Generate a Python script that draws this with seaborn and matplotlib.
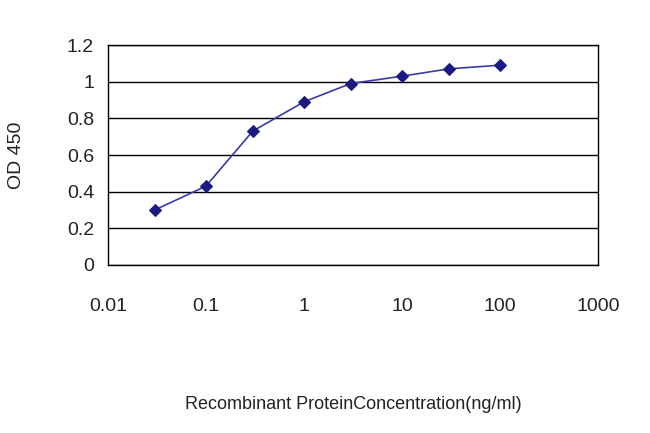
import numpy as np
import pandas as pd
import matplotlib
matplotlib.use("Agg")
import matplotlib.pyplot as plt
import seaborn as sns

conc = [0.03, 0.1, 0.3, 1, 3, 10, 30, 100]
od = [0.30, 0.43, 0.73, 0.89, 0.99, 1.03, 1.07, 1.09]
df = pd.DataFrame({"conc": conc, "od": od})

sns.set_style("white")
plt.rcParams['font.family'] = ['Liberation Sans', 'DejaVu Sans']

fig = plt.figure(figsize=(6.5, 4.33), dpi=100)
ax = fig.add_axes([0.166, 0.388, 0.754, 0.508])
sns.lineplot(data=df, x="conc", y="od", ax=ax, color="#3a3aa8", lw=1.2,
             marker="D", markersize=6, markerfacecolor="#1a1a80", markeredgecolor="#1a1a80")
ax.set_xscale("log")
ax.set_xlim(0.01, 1000)
ax.set_ylim(0, 1.2)
ax.set_xticks([0.01, 0.1, 1, 10, 100, 1000])
ax.set_xticklabels(["0.01", "0.1", "1", "10", "100", "1000"])
ax.set_yticks(np.arange(0, 1.21, 0.2))
ax.set_yticklabels(["0", "0.2", "0.4", "0.6", "0.8", "1", "1.2"])
ax.minorticks_off()
ax.yaxis.grid(True, color="black", lw=1)
for s in ax.spines.values():
    s.set_color("black")
    s.set_linewidth(1)
ax.tick_params(axis="y", labelsize=14, length=0, pad=10, labelcolor="#222222")
ax.tick_params(axis="x", labelsize=14, length=0, pad=24, labelcolor="#222222")
ax.set_xlabel("Recombinant ProteinConcentration(ng/ml)", fontsize=13, labelpad=58, color="#222222")
ax.set_ylabel("OD 450", fontsize=14, labelpad=30, color="#222222")
fig.savefig("out.png")
